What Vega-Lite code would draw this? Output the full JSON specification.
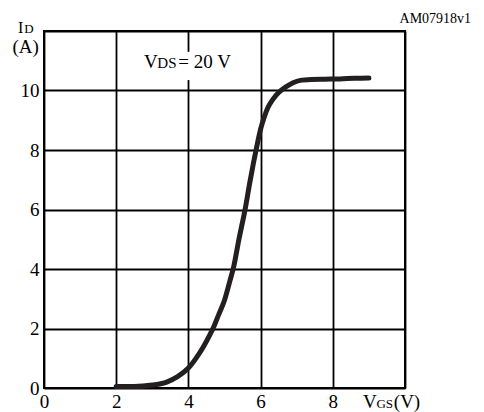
{
  "$schema": "https://vega.github.io/schema/vega-lite/v6.json",
  "width": 361,
  "height": 357,
  "autosize": {"type": "none"},
  "padding": {"left": 44, "top": 31, "right": 79, "bottom": 24},
  "background": "white",
  "config": {
    "view": {"stroke": "black", "strokeWidth": 2},
    "font": "Liberation Serif",
    "text": {"font": "Liberation Serif", "color": "black"}
  },
  "layer": [
    {
      "data": {"values": [
        {"vgs": 2.0, "id": 0.05}, {"vgs": 2.5, "id": 0.05}, {"vgs": 3.0, "id": 0.1},
        {"vgs": 3.4, "id": 0.2}, {"vgs": 3.7, "id": 0.38}, {"vgs": 4.0, "id": 0.67},
        {"vgs": 4.2, "id": 0.98}, {"vgs": 4.4, "id": 1.35}, {"vgs": 4.6, "id": 1.8},
        {"vgs": 4.7, "id": 2.05}, {"vgs": 4.85, "id": 2.5}, {"vgs": 5.0, "id": 2.95},
        {"vgs": 5.15, "id": 3.6}, {"vgs": 5.25, "id": 4.05}, {"vgs": 5.4, "id": 5.0},
        {"vgs": 5.57, "id": 6.0}, {"vgs": 5.7, "id": 6.9}, {"vgs": 5.8, "id": 7.55},
        {"vgs": 5.9, "id": 8.15}, {"vgs": 6.0, "id": 8.7}, {"vgs": 6.1, "id": 9.1},
        {"vgs": 6.2, "id": 9.42}, {"vgs": 6.34, "id": 9.7}, {"vgs": 6.5, "id": 9.93},
        {"vgs": 6.7, "id": 10.12}, {"vgs": 6.9, "id": 10.26}, {"vgs": 7.1, "id": 10.34},
        {"vgs": 7.4, "id": 10.37}, {"vgs": 7.8, "id": 10.38}, {"vgs": 8.2, "id": 10.39},
        {"vgs": 8.6, "id": 10.41}, {"vgs": 9.0, "id": 10.42}
      ]},
      "mark": {"type": "line", "color": "#231f20", "strokeWidth": 5, "strokeCap": "round", "interpolate": "monotone"},
      "encoding": {
        "x": {
          "field": "vgs", "type": "quantitative",
          "scale": {"domain": [0, 10], "nice": false, "zero": false},
          "axis": {
            "values": [0, 2, 4, 6, 8, 10], "title": null, "domain": false, "ticks": false,
            "grid": true, "gridColor": "black", "gridWidth": 1.8, "gridOpacity": 1,
            "labelFont": "Liberation Serif", "labelFontSize": 19, "labelColor": "black",
            "labelPadding": 4, "labelExpr": "datum.value == 10 ? '' : datum.label",
            "labelFlush": false
          }
        },
        "y": {
          "field": "id", "type": "quantitative",
          "scale": {"domain": [0, 12], "nice": false, "zero": true},
          "axis": {
            "values": [0, 2, 4, 6, 8, 10, 12], "title": null, "domain": false, "ticks": false,
            "grid": true, "gridColor": "black", "gridWidth": 1.8, "gridOpacity": 1,
            "labelFont": "Liberation Serif", "labelFontSize": 19, "labelColor": "black",
            "labelPadding": 5, "labelExpr": "datum.value == 12 ? '' : datum.label",
            "labelFlush": false
          }
        }
      }
    },
    {
      "data": {"values": [{}]},
      "mark": {"type": "rect", "color": "white"},
      "encoding": {
        "x": {"datum": 3.85, "type": "quantitative"},
        "x2": {"datum": 4.15},
        "y": {"datum": 10.35, "type": "quantitative"},
        "y2": {"datum": 11.3}
      }
    },
    {
      "data": {"values": [{}]},
      "mark": {"type": "text", "fontSize": 19, "align": "left", "baseline": "alphabetic"},
      "encoding": {
        "x": {"datum": 2.77, "type": "quantitative"},
        "y": {"datum": 10.76, "type": "quantitative"},
        "text": {"value": "V"}
      }
    },
    {
      "data": {"values": [{}]},
      "mark": {"type": "text", "fontSize": 15, "align": "left", "baseline": "alphabetic"},
      "encoding": {
        "x": {"datum": 3.14, "type": "quantitative"},
        "y": {"datum": 10.76, "type": "quantitative"},
        "text": {"value": "DS"}
      }
    },
    {
      "data": {"values": [{}]},
      "mark": {"type": "text", "fontSize": 19, "align": "left", "baseline": "alphabetic"},
      "encoding": {
        "x": {"datum": 3.72, "type": "quantitative"},
        "y": {"datum": 10.76, "type": "quantitative"},
        "text": {"value": "= 20 V"}
      }
    },
    {
      "data": {"values": [{}]},
      "mark": {"type": "text", "fontSize": 19, "align": "left", "baseline": "alphabetic"},
      "encoding": {
        "x": {"datum": 8.84, "type": "quantitative"},
        "y": {"datum": -0.67, "type": "quantitative"},
        "text": {"value": "V"}
      }
    },
    {
      "data": {"values": [{}]},
      "mark": {"type": "text", "fontSize": 13, "align": "left", "baseline": "alphabetic"},
      "encoding": {
        "x": {"datum": 9.21, "type": "quantitative"},
        "y": {"datum": -0.67, "type": "quantitative"},
        "text": {"value": "GS"}
      }
    },
    {
      "data": {"values": [{}]},
      "mark": {"type": "text", "fontSize": 19, "align": "left", "baseline": "alphabetic"},
      "encoding": {
        "x": {"datum": 9.69, "type": "quantitative"},
        "y": {"datum": -0.67, "type": "quantitative"},
        "text": {"value": "(V)"}
      }
    },
    {
      "data": {"values": [{}]},
      "mark": {"type": "text", "fontSize": 16, "align": "left", "baseline": "alphabetic"},
      "encoding": {
        "x": {"datum": -0.72, "type": "quantitative"},
        "y": {"datum": 11.93, "type": "quantitative"},
        "text": {"value": "I"}
      }
    },
    {
      "data": {"values": [{}]},
      "mark": {"type": "text", "fontSize": 13, "align": "left", "baseline": "alphabetic"},
      "encoding": {
        "x": {"datum": -0.55, "type": "quantitative"},
        "y": {"datum": 11.93, "type": "quantitative"},
        "text": {"value": "D"}
      }
    },
    {
      "data": {"values": [{}]},
      "mark": {"type": "text", "fontSize": 19, "align": "center", "baseline": "alphabetic"},
      "encoding": {
        "x": {"datum": -0.51, "type": "quantitative"},
        "y": {"datum": 11.26, "type": "quantitative"},
        "text": {"value": "(A)"}
      }
    },
    {
      "data": {"values": [{}]},
      "mark": {"type": "text", "fontSize": 14, "align": "center", "baseline": "alphabetic"},
      "encoding": {
        "x": {"datum": 10.84, "type": "quantitative"},
        "y": {"datum": 12.27, "type": "quantitative"},
        "text": {"value": "AM07918v1"}
      }
    }
  ]
}
